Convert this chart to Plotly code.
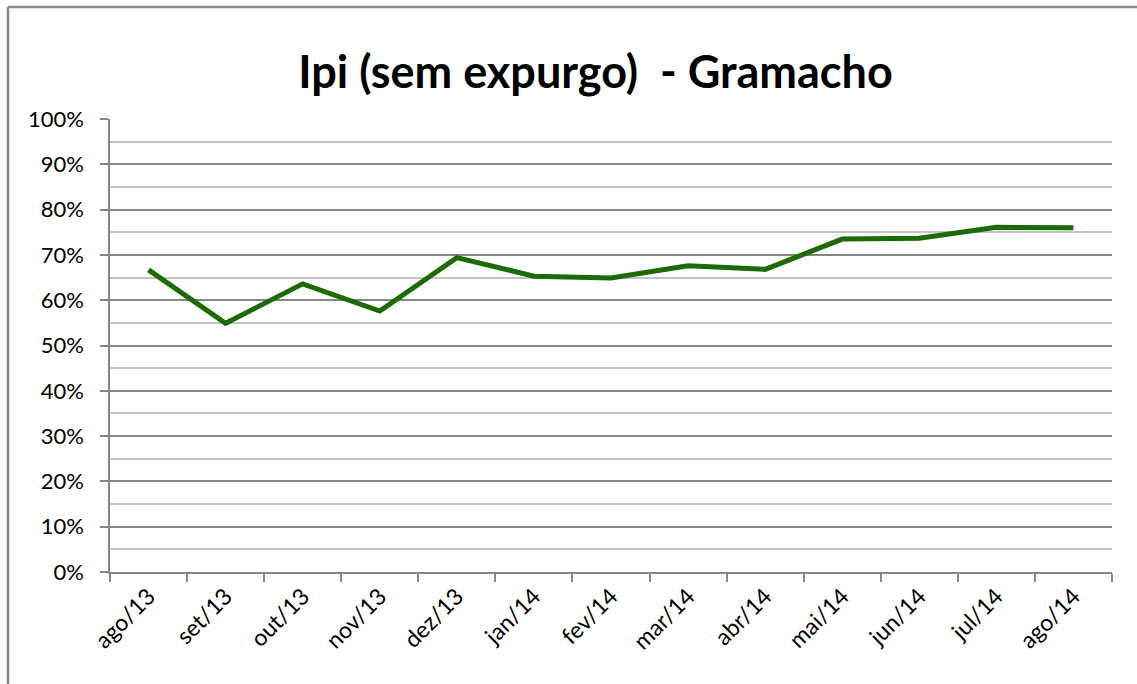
import plotly.graph_objects as go

# Monthly series, Aug/2013 - Aug/2014
months = ["ago/13", "set/13", "out/13", "nov/13", "dez/13", "jan/14", "fev/14",
          "mar/14", "abr/14", "mai/14", "jun/14", "jul/14", "ago/14"]
ipi = [0.667, 0.549, 0.636, 0.576, 0.694, 0.653, 0.649, 0.676, 0.668, 0.735, 0.737, 0.761, 0.760]
y_ticks = [i / 10 for i in range(11)]
y_tick_text = [f"{i * 10}%" for i in range(11)]

W, H = 1137, 684
L, R, T, B = 110, 25, 119, 112
pw, ph = W - L - R, H - T - B


def px_x(p):
    return (p - L) / pw


def px_y(p):
    return (H - B - p) / ph


font_family = "Lato, 'Open Sans', sans-serif"
axis_grey = "#868686"

fig = go.Figure()
fig.add_trace(go.Scatter(
    x=months, y=ipi, mode="lines",
    line=dict(color="#1b6a02", width=5),
    showlegend=False,
))

fig.update_layout(
    width=W, height=H,
    margin=dict(l=L, r=R, t=T, b=B),
    paper_bgcolor="white", plot_bgcolor="white",
    title=dict(
        text="<b>Ipi (sem expurgo)  - Gramacho</b>",
        font=dict(family=font_family, size=45, color="black"),
        x=595.5 / W, xref="container", xanchor="center",
        y=1 - 72 / H, yref="container", yanchor="middle",
    ),
    xaxis=dict(
        type="category", range=[-0.5, len(months) - 0.5],
        tickson="boundaries", ticks="outside", ticklen=8, tickcolor=axis_grey,
        tickwidth=1.5, showgrid=False, showline=True, linecolor=axis_grey, linewidth=1.5,
        tickangle=-45, tickfont=dict(family=font_family, size=23, color="black"),
    ),
    yaxis=dict(
        range=[0, 1], tickvals=y_ticks, ticktext=y_tick_text,
        ticks="outside", ticklen=8, tickcolor=axis_grey, tickwidth=1.5,
        ticklabelstandoff=12,
        showline=True, linecolor=axis_grey, linewidth=1.5,
        gridcolor=axis_grey, gridwidth=1.5, zeroline=False,
        tickfont=dict(family=font_family, size=22, color="black"),
        minor=dict(dtick=0.05, showgrid=True, gridcolor="#c4c4c4", gridwidth=1.5, ticks=""),
    ),
    shapes=[
        # outer chart frame (left and top edges)
        dict(type="line", xref="paper", yref="paper",
             x0=px_x(8), x1=px_x(8), y0=px_y(7), y1=px_y(H + 20),
             line=dict(color="#8a8a8a", width=2.5)),
        dict(type="line", xref="paper", yref="paper",
             x0=px_x(8), x1=px_x(W + 20), y0=px_y(7), y1=px_y(7),
             line=dict(color="#8a8a8a", width=2.5)),
    ],
)

fig.write_html("out.html")
